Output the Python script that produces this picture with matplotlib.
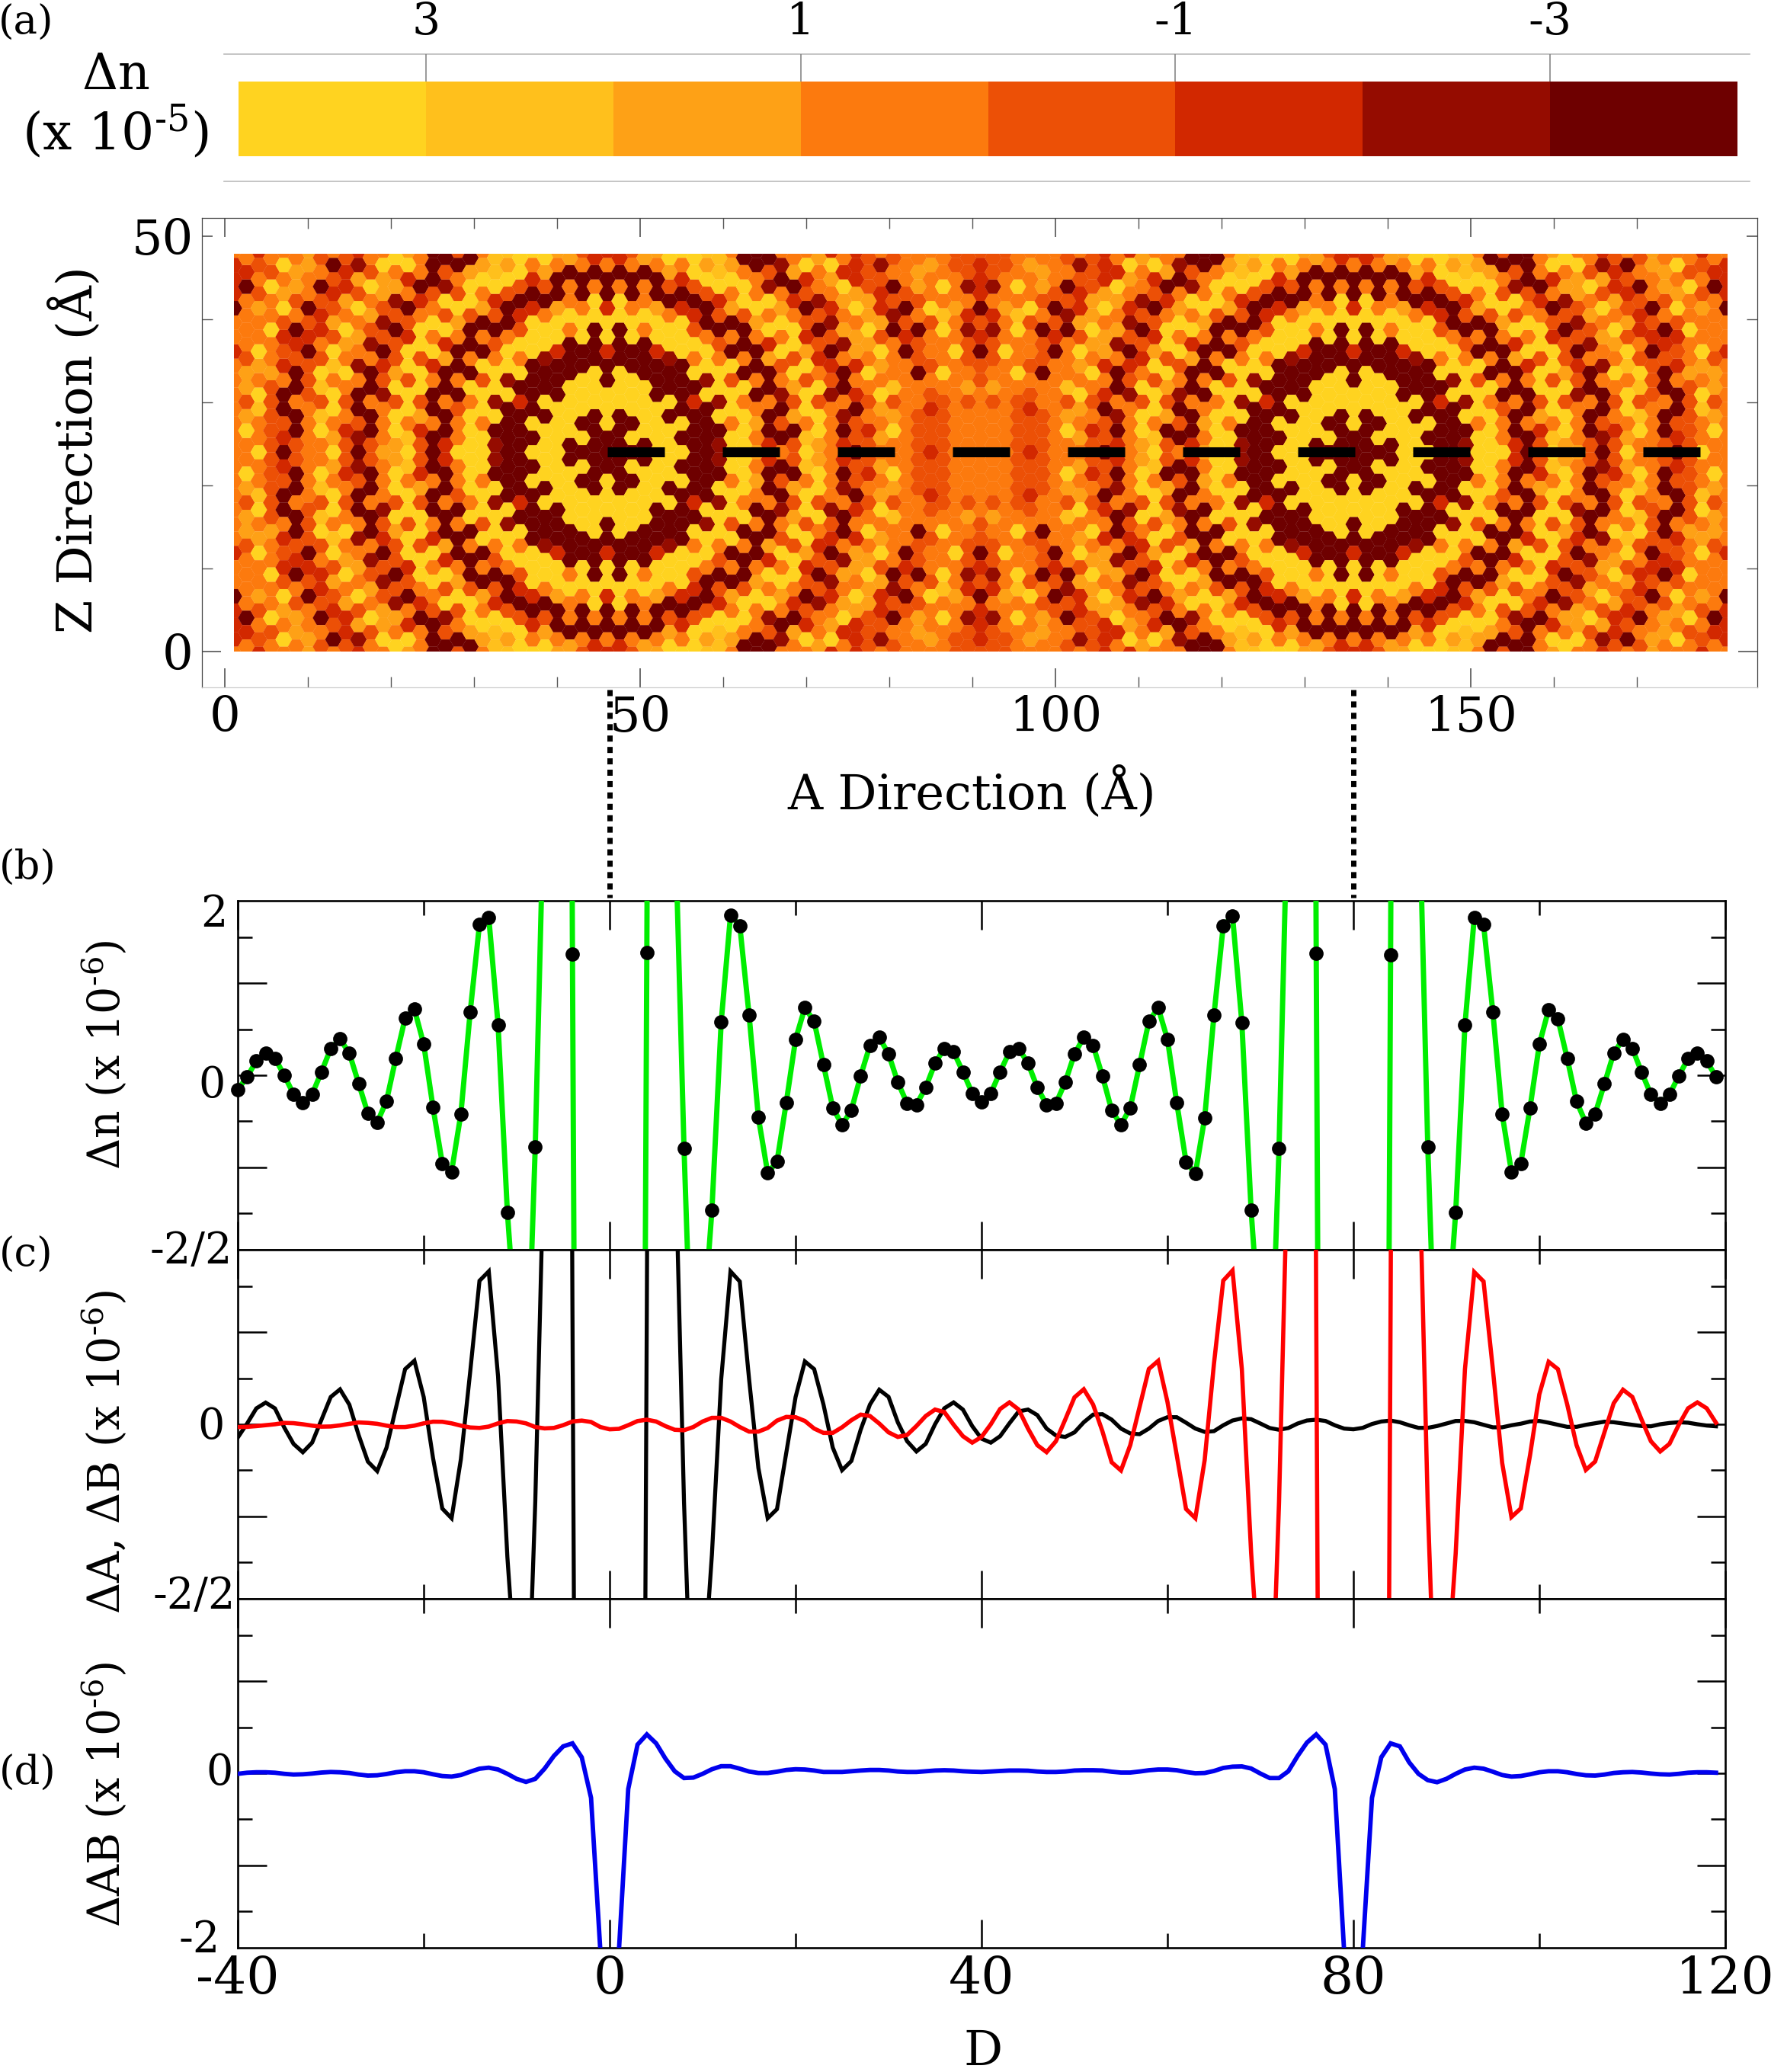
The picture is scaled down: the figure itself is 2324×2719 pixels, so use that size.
import numpy as np
import matplotlib
matplotlib.use("Agg")
import matplotlib.pyplot as plt
from matplotlib.collections import PolyCollection
from matplotlib.colors import ListedColormap, BoundaryNorm
from matplotlib.lines import Line2D
from matplotlib.patches import Rectangle

plt.rcParams['font.family'] = ['DejaVu Serif']
plt.rcParams['mathtext.fontset'] = 'dejavuserif'
plt.rcParams['axes.unicode_minus'] = False

W, H = 2324, 2719

# Eight colour classes of the map, left to right on the colour bar
level_colors = ['#FFD320', '#FFC01C', '#FEA116', '#FC7A0E',
                '#EC5006', '#D22800', '#950C00', '#6E0000']
cbar_edges = [4, 3, 2, 1, 0, -1, -2, -3, -4]
cbar_ticks = [3, 1, -1, -3]

# Map cells: index is the distance in columns from an impurity,
# each string goes from the centre row to the top edge
# outer = the side facing the map edge, inner = the side facing the other impurity
hex_outer = [
    "770007750057735", "77700077700375", "707000770037734", "70000777303372",
    "000077750027732", "00707760037420", "070777700057530", "77757030457400",
    "777706003774021", "67060034745011", "003004073723023", "00030737740027",
    "033473773204374", "57737725040647", "773773503034777", "45240040035733",
    "013004005473502", "20040244746230", "233364574642203", "47737736423043",
    "764773632304265", "45343032032554", "023003104245473", "30141043554734",
    "333344475473322", "47737745734223", "754773545402303", "44444233033043",
    "033103203324345", "30242243333753", "333333353375553",
]
hex_inner = [
    "770007750057735", "77700077700375", "707000770037734", "70000777303372",
    "000077750027732", "00707760037420", "070777700057530", "77757030457400",
    "777706003774021", "67060034745011", "003004073723023", "00030737740037",
    "232373773203377", "57737725030647", "374763403023763", "47242040035723",
    "013004025474503", "20040354746332", "333364574653205", "57637736232053",
    "744753522302555", "45343032022444", "323203204255463", "30241333764734",
    "333333375474333", "44433744734223", "544543433403323", "44443033013033",
    "333333303323344", "33342344653644", "333334475475554",
]

D = np.arange(-40, 120)

# Values past the axis limits are estimates from the slopes where the lines leave the panel
dn_total = [
    -.157, -.02, .157, .243, .185, 0, -.207, -.30, -.207, .036,
    .29, .395, .24, -.09, -.417, -.514, -.28, .185, .62, .718,
    .34, -.35, -.96, -1.05, -.42, .688, 1.644, 1.718, .55, -1.49,
    -2.9, -3.8, -.776, 3.34, 12, 25, 1.32, -19, -40, -60,
    -70, -60, -40, -19, 1.334, 25, 12, 2.9, -.796, -3.8,
    -2.86, -1.47, .58, 1.74, 1.63, .655, -.46, -1.064, -.94, -.296,
    .392, .735, .586, .113, -.354, -.541, -.381, -.006, .326, .412,
    .232, -.077, -.307, -.32, -.133, .13, .293, .254, .036, -.196,
    -.293, -.196, .036, .254, .293, .13, -.133, -.32, -.307, -.077,
    .232, .412, .326, -.006, -.381, -.541, -.354, .113, .586, .735,
    .392, -.301, -.942, -1.072, -.467, .652, 1.627, 1.735, .575, -1.472,
    -2.9, -3.8, -.798, 3.3, 12, 25, 1.329, -19, -40, -60,
    -70, -60, -40, -19, 1.315, 25, 12, 3.3, -.776, -3.8,
    -2.9, -1.497, .55, 1.715, 1.641, .688, -.423, -1.052, -.964, -.354,
    .337, .715, .613, .182, -.285, -.519, -.42, -.094, .24, .392,
    .293, .033, -.21, -.307, -.21, -.006, .182, .24, .155, -.017,
]
dn_a = [
    -.145, .007, .173, .236, .173, -.035, -.214, -.305, -.2, .048,
    .297, .38, .214, -.117, -.407, -.51, -.255, .173, .6, .692,
    .297, -.366, -.918, -1.023, -.38, .57, 1.562, 1.665, .518, -1.444,
    -2.9, -3.8, -.85, 3.2, 12, 25, 1.24, -19, -40, -60,
    -70, -60, -40, -19, 1.24, 25, 12, 3.2, -.85, -3.8,
    -2.9, -1.42, .49, 1.665, 1.554, .49, -.477, -1.023, -.924, -.31,
    .297, .684, .6, .215, -.254, -.5, -.4, -.06, .215, .376,
    .298, .02, -.185, -.296, -.213, 0, .174, .238, .16, -.02,
    -.157, -.2, -.13, .01, .14, .16, .1, -.047, -.122, -.138,
    -.088, .022, .105, .11, .05, -.047, -.1, -.108, -.047, .036,
    .077, .077, .017, -.047, -.083, -.075, -.011, .041, .064, .055,
    .008, -.041, -.06, -.041, .008, .041, .05, .036, -.011, -.047,
    -.055, -.039, .003, .03, .04, .022, -.011, -.039, -.039, -.019,
    .008, .036, .036, .022, -.006, -.033, -.033, -.011, .006, .03,
    .036, .017, -.006, -.028, -.028, -.006, .011, .028, .022, .008,
    -.006, -.019, -.022, 0, .014, .022, .017, 0, -.014, -.022,
]
dn_b = [
    -.03, -.028, -.02, -.01, 0, .015, .012, 0, -.015, -.026,
    -.024, -.012, .005, .02, .015, .005, -.015, -.03, -.03, -.015,
    .01, .028, .027, .01, -.015, -.035, -.04, -.025, .01, .035,
    .03, .01, -.03, -.045, -.04, -.01, .03, .04, .025, -.03,
    -.055, -.05, -.01, .035, .05, .03, -.02, -.06, -.065, -.03,
    .03, .07, .07, .03, -.03, -.08, -.08, -.04, .04, .08,
    .077, .036, -.047, -.094, -.094, -.033, .044, .105, .09, .008,
    -.088, -.138, -.116, -.019, .09, .16, .133, -.005, -.13, -.2,
    -.138, 0, .166, .238, .16, -.047, -.227, -.304, -.185, .05,
    .293, .381, .215, -.075, -.414, -.503, -.227, .188, .602, .69,
    .243, -.337, -.923, -1.022, -.392, .657, 1.564, 1.674, .602, -1.4,
    -2.9, -3.8, -.85, 3.2, 12, 25, 1.24, -19, -40, -60,
    -70, -60, -40, -19, 1.24, 25, 12, 3.2, -.89, -3.8,
    -2.9, -1.41, .6, 1.657, 1.555, .6, -.42, -1.01, -.917, -.337,
    .326, .68, .6, .215, -.227, -.497, -.406, -.088, .229, .376,
    .298, .05, -.185, -.296, -.213, -.005, .174, .238, .174, .017,
]
dn_ab = [
    -.006, .006, .011, .011, .006, -.006, -.014, -.011, -.003, .008,
    .014, .011, .003, -.014, -.025, -.022, -.008, .011, .022, .022,
    .011, -.011, -.03, -.036, -.019, .017, .05, .061, .041, -.006,
    -.061, -.094, -.061, .05, .188, .293, .326, .174, -.268, -1.93,
    -3.5, -1.93, -.171, .312, .423, .326, .16, .022, -.052, -.047,
    -.006, .044, .077, .077, .05, .019, .003, .003, .017, .036,
    .044, .041, .03, .014, .014, .014, .022, .03, .036, .036,
    .03, .019, .014, .014, .022, .03, .033, .03, .022, .017,
    .014, .019, .025, .03, .03, .028, .019, .014, .014, .019,
    .03, .033, .033, .03, .017, .008, .008, .019, .033, .041,
    .041, .033, .014, 0, .003, .025, .058, .072, .075, .052,
    -.003, -.052, -.052, .022, .188, .334, .423, .312, -.171, -1.93,
    -3.5, -1.93, -.268, .174, .326, .293, .119, -.006, -.075, -.097,
    -.061, -.006, .041, .061, .05, .017, -.019, -.036, -.03, -.011,
    .011, .022, .022, .011, -.008, -.022, -.025, -.014, .003, .011,
    .014, .008, -.003, -.011, -.014, -.006, .006, .011, .011, .006,
]


def px_axes(left, top, right, bottom):
    return fig.add_axes([left / W, 1 - bottom / H, (right - left) / W, (bottom - top) / H])


def px_text(x, y, s, size, **kw):
    kw.setdefault('ha', 'center')
    kw.setdefault('va', 'center')
    fig.text(x / W, 1 - y / H, s, fontsize=size, **kw)


fig = plt.figure(figsize=(W / 100, H / 100), dpi=100)
cmap = ListedColormap(level_colors)
norm = BoundaryNorm(np.arange(-0.5, 8.5), cmap.N)

# (a) colour bar
frame = px_axes(294, 71, 2296, 238)
frame.set_xticks([])
frame.set_yticks([])
for side in ['left', 'right']:
    frame.spines[side].set_visible(False)
for side in ['top', 'bottom']:
    frame.spines[side].set_color('#bbbbbb')
    frame.spines[side].set_linewidth(1.2)

cbar = px_axes(313, 107, 2280, 205)
cbar.pcolormesh(cbar_edges, [0, 1], [np.arange(8)], cmap=cmap, norm=norm)
cbar.set_xlim(4, -4)
cbar.set_yticks([])
cbar.xaxis.tick_top()
cbar.set_xticks(cbar_ticks)
cbar.set_xticklabels([str(t) for t in cbar_ticks], fontsize=42)
cbar.tick_params(axis='x', length=26, width=1.2, color='#888888', pad=10)
for sp in cbar.spines.values():
    sp.set_visible(False)

# (a) density map
ax_map = px_axes(265, 286, 2306, 902)
ax_map.set_xlim(-2.75, 184.5)
ax_map.set_ylim(-4.3, 52.2)

col_pitch = 1.498
row_pitch = 1.734
x_left_imp = 46.05
y_mid = 24.0
half_w = col_pitch / 1.5 * 1.01
half_h = row_pitch / 2 * 1.01

centers_x, centers_y, levels = [], [], []
for k in range(-30, 91):
    n = abs((k + 30) % 60 - 30)
    col = hex_inner[n] if 0 <= k <= 60 else hex_outer[n]
    offset = 0.5 if n % 2 else 0.0
    for i, c in enumerate(col):
        rows = [i + offset, -(i + offset)] if (i + offset) > 0 else [0.0]
        for r in rows:
            centers_x.append(x_left_imp + k * col_pitch)
            centers_y.append(y_mid + r * row_pitch)
            levels.append(int(c))

verts = [[(x - half_w, y), (x - half_w / 2, y + half_h), (x + half_w / 2, y + half_h),
          (x + half_w, y), (x + half_w / 2, y - half_h), (x - half_w / 2, y - half_h)]
         for x, y in zip(centers_x, centers_y)]
hexes = PolyCollection(verts, array=np.array(levels), cmap=cmap, norm=norm, edgecolors='none')
ax_map.add_collection(hexes)
hexes.set_clip_path(Rectangle((1.1, 0), 179.8, 47.9, transform=ax_map.transData))

# dashed line between the two impurities
dash_starts = x_left_imp + 13.85 * np.arange(10)
ax_map.hlines(np.full(10, y_mid), dash_starts, dash_starts + 6.9, color='black', lw=9.4, capstyle='butt')

ax_map.set_xticks([0, 50, 100, 150])
ax_map.set_xticks(np.arange(10, 180, 10), minor=True)
ax_map.set_yticks([0, 50])
ax_map.set_yticks([10, 20, 30, 40], minor=True)
ax_map.tick_params(which='major', direction='in', length=18, width=1.1, color='#444444',
                   top=True, right=True, labelsize=46, pad=8)
ax_map.tick_params(which='minor', direction='in', length=10, width=1, color='#555555',
                   top=True, right=True)
ax_map.tick_params(axis='x', which='major', pad=7)
for tick_line in [ax_map.yaxis.get_major_ticks()[1].tick1line, ax_map.yaxis.get_major_ticks()[1].tick2line]:
    tick_line.set_markersize(10)
for sp in ax_map.spines.values():
    sp.set_color('#444444')
    sp.set_linewidth(0.9)
ax_map.spines['bottom'].set_color('#cccccc')

px_text(1275, 1040, 'A Direction (Å)', 46)
px_text(99, 590, 'Z Direction (Å)', 46, rotation=90)
px_text(152, 99, r'$\Delta$n', 47)
px_text(152, 173, r'(x 10$^{\text{-}5}$)', 49)

# connectors from the impurities down to panel (b)
for xp in [800, 1776]:
    fig.add_artist(Line2D([xp / W, xp / W], [1 - 905 / H, 1 - 1178 / H], color='black',
                          lw=5, dashes=(1.15, 1.0), transform=fig.transFigure))

# (b), (c), (d) line cuts
panel_edges = [(1182, 1640), (1640, 2098), (2098, 2556)]
axes = []
for top, bottom in panel_edges:
    ax = px_axes(312, top, 2264, bottom)
    ax.set_xlim(-40, 120)
    ax.set_ylim(-1.9, 1.9)
    ax.set_xticks([-40, 0, 40, 80, 120])
    ax.set_xticks([-20, 20, 60, 100], minor=True)
    ax.set_yticks([-1, 0, 1])
    ax.set_yticks([-1.5, -.5, .5, 1.5], minor=True)
    ax.tick_params(which='major', direction='in', length=27, width=1.8, top=True, right=True,
                   labelleft=False, labelbottom=False)
    ax.tick_params(which='minor', direction='in', length=14, width=1.8, top=True, right=True)
    for sp in ax.spines.values():
        sp.set_linewidth(1.9)
    axes.append(ax)

ax_b, ax_c, ax_d = axes

total = np.array(dn_total)
in_range = np.abs(total) < 1.9
ax_b.plot(D, total, color='#00ee00', lw=5, zorder=3)
ax_b.plot(D[in_range], total[in_range], 'o', color='black', ms=13.5, mew=0, clip_on=False, zorder=4)

ax_c.plot(D, dn_a, color='black', lw=3.8, solid_joinstyle='miter', zorder=3)
ax_c.plot(D, dn_b, color='#ff0000', lw=4, solid_joinstyle='miter', zorder=4)

ax_d.plot(D, dn_ab, color='#0000ee', lw=4.2, solid_joinstyle='miter', zorder=3)

ax_d.tick_params(labelbottom=True)
ax_d.set_xticklabels(['-40', '0', '40', '80', '120'], fontsize=49)
ax_d.tick_params(axis='x', which='major', pad=6)

ylabel_size = 41
px_text(137, 1384, r'$\Delta$n (x 10$^{\text{-}6}$)', ylabel_size, rotation=90)
px_text(137, 1905, r'$\Delta$A, $\Delta$B (x 10$^{\text{-}6}$)', ylabel_size, rotation=90)
px_text(137, 2355, r'$\Delta$AB (x 10$^{\text{-}6}$)', ylabel_size, rotation=90)

tick_size = 40
px_text(281, 1200, '2', tick_size)
px_text(278, 1425, '0', tick_size)
px_text(251, 1642, '-2/2', tick_size)
px_text(277, 1873, '0', tick_size)
px_text(255, 2095, '-2/2', tick_size)
px_text(288, 2327, '0', tick_size)
px_text(262, 2546, '-2', tick_size)

px_text(1290, 2692, 'D', 46)

panel_size = 38
px_text(34, 30, '(a)', panel_size)
px_text(36, 1139, '(b)', panel_size)
px_text(34, 1647, '(c)', panel_size)
px_text(36, 2327, '(d)', panel_size)

fig.savefig('out.png', dpi=100)
